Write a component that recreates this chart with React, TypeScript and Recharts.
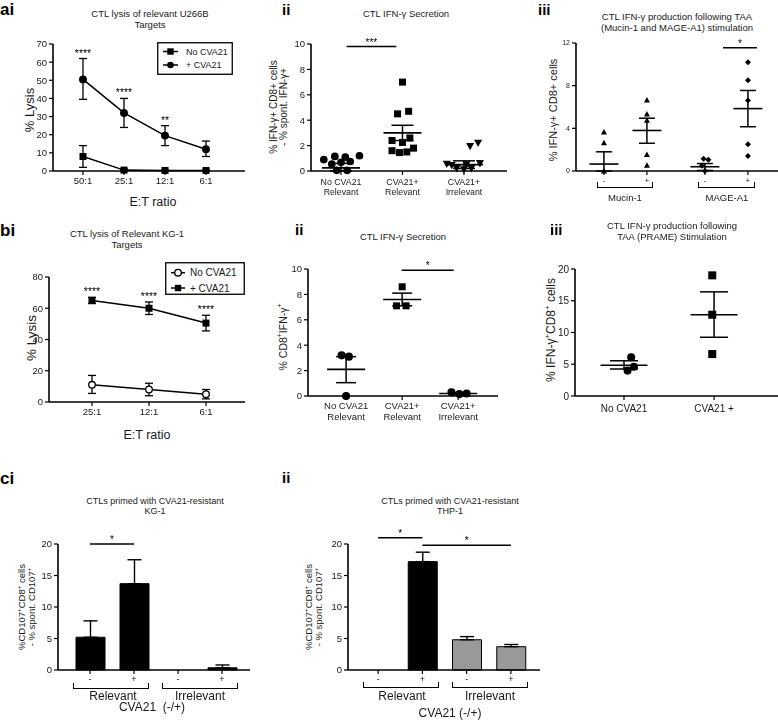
import React from "react";
import {
  LineChart, Line, ScatterChart, Scatter, BarChart, Bar, Cell,
  XAxis, YAxis, ErrorBar, ReferenceLine, ReferenceDot,
} from "recharts";

const FONT = "'Liberation Sans', Arial, Helvetica, sans-serif";
const INK = "#1a1a1a";

// ---------- a(i) CTL lysis of U266B ----------
const aiRatios = ["50:1", "25:1", "12:1", "6:1"];
const aiNo = [8, 0.5, 0.3, 0.3];
const aiNoErr = [[6, 6], [0.5, 0.5], [0.3, 0.3], [0.3, 0.3]];
const aiPlus = [50.5, 32, 19.5, 12];
const aiPlusErr = [[11, 11.5], [8, 8], [5.5, 5.5], [4, 4.5]];
const aiSig = ["****", "****", "**", ""];

// ---------- a(ii) IFN-g secretion, points are [x, value] ----------
const aiiNoRel = [[0.72, 0.9], [0.9, 1.15], [1.07, 1.1], [1.3, 1.2], [0.85, 0.55], [1.0, 0.68], [1.15, 0.75], [0.93, 0.05], [1.1, 0.05]];
const aiiCvaRel = [[2.0, 7.0], [2.1, 4.7], [1.92, 4.5], [2.12, 2.6], [1.83, 2.4], [2.0, 2.25], [2.18, 1.8], [1.83, 1.6], [2.07, 1.5], [1.95, 1.45]];
const aiiCvaIrr = [[3.23, 2.2], [3.1, 1.95], [3.26, 0.6], [2.72, 0.55], [2.8, 0.45], [3.04, 0.5], [2.88, 0.2], [3.0, 0.1], [3.12, 0.2]];
const aiiMean = [0.25, 3.0, 0.5];
const aiiSem = [[0.25, 0.35], [0.6, 0.6], [0.3, 0.3]];
const aiiTicks = [["No CVA21", "Relevant"], ["CVA21+", "Relevant"], ["CVA21+", "Irrelevant"]];

// ---------- a(iii) TAA stimulation ----------
const aiiiPos = [1, 2, 3.35, 4.35];
const aiiiMucNeg = [[1, 3.65], [1, 2.65], [1, 0]];
const aiiiMucPos = [[2, 6.65], [2, 5.35], [2, 4.75], [2, 1.55], [2, 0.55]];
const aiiiMageNeg = [[3.32, 1.15], [3.43, 1.05], [3.28, 0.5], [3.35, 0]];
const aiiiMagePos = [[4.35, 10.2], [4.35, 8.5], [4.35, 6.6], [4.35, 2.5], [4.35, 1.4]];
const aiiiMean = [0.65, 3.8, 0.4, 5.85];
const aiiiSem = [[0.65, 1.15], [1.2, 1.15], [0.35, 0.3], [1.7, 1.7]];
const aiiiTicks = [["-"], ["+"], ["-"], ["+"]];

// ---------- b(i) CTL lysis of KG-1 ----------
const biRatios = ["25:1", "12:1", "6:1"];
const biNo = [11, 8, 5];
const biNoErr = [[5.5, 6], [4, 4], [3, 3]];
const biPlus = [65, 60, 50.5];
const biPlusErr = [[2, 2], [4, 4], [5, 5]];
const biSig = ["****", "****", "****"];

// ---------- b(ii) ----------
const biiNoRel = [[0.92, 3.2], [1.05, 3.1], [1.0, 0]];
const biiCvaRel = [[2.0, 8.6], [1.9, 7.1], [2.07, 7.1]];
const biiCvaIrr = [[2.88, 0.3], [3.02, 0.15], [3.15, 0.2]];
const biiMean = [2.1, 7.6, 0.2];
const biiSem = [[1.05, 1.0], [0.5, 0.5], [0.05, 0.05]];

// ---------- b(iii) PRAME ----------
const biiiNo = [[1.08, 6.1], [1.11, 4.6], [1.04, 4.0]];
const biiiCva = [[1.98, 19.0], [1.98, 12.8], [1.98, 6.6]];
const biiiMean = [4.85, 12.8];
const biiiSem = [[0.6, 0.7], [3.55, 3.6]];
const biiiTicks = [["No CVA21"], ["CVA21 +"]];

// ---------- c(i), c(ii) CD107 ----------
const cCats = ["Relevant -", "Relevant +", "Irrelevant -", "Irrelevant +"];
const ciVals = [5.2, 13.7, 0, 0.35];
const ciErr = [2.6, 3.8, 0, 0.45];
const ciFill = ["#000", "#000", "#000", "#000"];
const ciiVals = [0, 17.2, 4.8, 3.7];
const ciiErr = [0, 1.5, 0.5, 0.35];
const ciiFill = ["#000", "#000", "#999", "#999"];

// plot boxes: [x0, x1, yTop, yBottom] in page px
const AI = [53, 245, 44, 171];
const AII = [311, 507, 44, 171];
const AIII = [576, 778, 42.7, 170.7];
const BI = [49, 245, 277, 402];
const BII = [308, 498, 269, 396];
const BIII = [575, 778, 269, 396];
const CI = [58, 250, 544, 670];
const CII = [348, 540, 544, 670];

const YW = 34, MT = 24, MR = 6, XH = 40;
function dims(b: number[]) {
  const [x0, x1, yT, yB] = b;
  return {
    pos: { position: "absolute" as const, left: x0 - YW, top: yT - MT, willChange: "transform" },
    width: x1 - x0 + YW + MR,
    height: yB - yT + MT + XH,
    margin: { top: MT, right: MR, left: 0, bottom: 0 },
  };
}

const ax = {
  axisLine: { stroke: "#000", strokeWidth: 1.6 },
  tickLine: { stroke: "#000", strokeWidth: 1.2 },
  tickSize: 4,
  tickMargin: 2,
};
const tk = (s: number) => ({ fontSize: s, fill: INK, fontFamily: FONT });

const pts = (a: number[][]) => a.map(([x, y]) => ({ x, y }));
const means = (xs: number[], m: number[], e: number[][]) => xs.map((x, i) => ({ x, y: m[i], err: e[i] }));

// marker shapes
const circ = (r: number, fill = "#000") => (p: any) => (
  <circle key={`c${p.index}`} cx={p.cx} cy={p.cy} r={r} fill={fill} stroke="#000" strokeWidth={1.3} />
);
const sq = (s: number) => (p: any) => (
  <rect key={`s${p.index}`} x={p.cx - s / 2} y={p.cy - s / 2} width={s} height={s} fill="#000" />
);
const triUp = (s: number) => (p: any) => (
  <polygon points={`${p.cx - s / 2},${p.cy + s * 0.42} ${p.cx + s / 2},${p.cy + s * 0.42} ${p.cx},${p.cy - s * 0.5}`} fill="#000" />
);
const triDown = (s: number) => (p: any) => (
  <polygon points={`${p.cx - s / 2},${p.cy - s * 0.42} ${p.cx + s / 2},${p.cy - s * 0.42} ${p.cx},${p.cy + s * 0.5}`} fill="#000" />
);
const dia = (s: number) => (p: any) => (
  <polygon points={`${p.cx},${p.cy - s / 2} ${p.cx + s / 2},${p.cy} ${p.cx},${p.cy + s / 2} ${p.cx - s / 2},${p.cy}`} fill="#000" />
);
const meanBar = (w: number) => (p: any) => (
  <line x1={p.cx - w / 2} x2={p.cx + w / 2} y1={p.cy} y2={p.cy} stroke="#000" strokeWidth={1.6} />
);

function MultiTick(p: any) {
  const lines: string[] = p.labels[p.index] || [];
  return (
    <text x={p.x} y={p.y} textAnchor="middle" fontSize={p.size} fontFamily={FONT} fill={INK}>
      {lines.map((l, i) => (
        <tspan key={i} x={p.x} dy={i === 0 ? p.dy : p.lh}>{l}</tspan>
      ))}
    </text>
  );
}

function Txt({ x, y, size = 10, bold = false, rot = false, lh = 1.15, children }: any) {
  return (
    <div
      style={{
        position: "absolute", left: x, top: y,
        transform: `translate(-50%,-50%)${rot ? " rotate(-90deg)" : ""}`,
        fontSize: size, fontWeight: bold ? 700 : 400, whiteSpace: "nowrap",
        textAlign: "center", lineHeight: typeof lh === "number" && lh < 3 ? lh : `${lh}px`, color: INK,
      }}
    >
      {children}
    </div>
  );
}
const Letter = ({ x, y, s = 17, children }: any) => (
  <div style={{ position: "absolute", left: x, top: y, fontSize: s, fontWeight: 700, lineHeight: 1.2, color: "#000" }}>{children}</div>
);
const Sup = ({ children }: any) => (
  <sup style={{ fontSize: "0.65em", verticalAlign: "super", lineHeight: 0 }}>{children}</sup>
);
function Bracket({ x1, x2, y, h = 6 }: any) {
  return (
    <div style={{
      position: "absolute", left: x1, top: y - h, width: x2 - x1, height: h, boxSizing: "border-box",
      borderLeft: "1.5px solid #000", borderRight: "1.5px solid #000", borderBottom: "1.5px solid #000",
    }} />
  );
}

function LegendBox({ x, y, w, h, rows, size, lx1, lx2, tx }: any) {
  return (
    <svg style={{ position: "absolute", left: x, top: y }} width={w} height={h}>
      <rect x={0.75} y={0.75} width={w - 1.5} height={h - 1.5} fill="#fff" stroke="#000" strokeWidth={1.3} />
      {rows.map((r: any, i: number) => {
        const mx = (lx1 + lx2) / 2;
        return (
          <g key={i}>
            <line x1={lx1} x2={lx2} y1={r.y} y2={r.y} stroke="#000" strokeWidth={1.5} />
            {r.m === "sq" && <rect x={mx - 3.2} y={r.y - 3.2} width={6.4} height={6.4} fill="#000" />}
            {r.m === "circ" && <circle cx={mx} cy={r.y} r={3.3} fill="#000" />}
            {r.m === "open" && <circle cx={mx} cy={r.y} r={3.3} fill="#fff" stroke="#000" strokeWidth={1.4} />}
            <text x={tx} y={r.y} dominantBaseline="central" fontSize={size} fontFamily={FONT} fill={INK}>{r.label}</text>
          </g>
        );
      })}
    </svg>
  );
}

function LysisChart({ box, cats, no, noErr, plus, plusErr, sig, ymax, yticks, pad, noDot, plusDot }: any) {
  const d = dims(box);
  const data = cats.map((r: string, i: number) => ({
    r, no: no[i], noErr: noErr[i], plus: plus[i], plusErr: plusErr[i],
    sigY: plus[i] + plusErr[i][1], sig: sig[i],
  }));
  return (
    <div style={d.pos}>
      <LineChart width={d.width} height={d.height} margin={d.margin} data={data}>
        <XAxis dataKey="r" padding={pad} height={XH} tick={tk(9.5)} interval={0} {...ax} />
        <YAxis domain={[0, ymax]} ticks={yticks} width={YW} tick={tk(9.5)} interval={0} {...ax} />
        <Line dataKey="no" stroke="#000" strokeWidth={1.5} dot={noDot} activeDot={false} isAnimationActive={false}>
          <ErrorBar dataKey="noErr" direction="y" width={4} stroke="#000" strokeWidth={1.3} />
        </Line>
        <Line dataKey="plus" stroke="#000" strokeWidth={1.5} dot={plusDot} activeDot={false} isAnimationActive={false}>
          <ErrorBar dataKey="plusErr" direction="y" width={4} stroke="#000" strokeWidth={1.3} />
        </Line>
        {data.filter((row: any) => row.sig).map((row: any) => (
          <ReferenceDot key={row.r} x={row.r} y={row.sigY} r={0} fill="none" stroke="none" ifOverflow="visible"
            label={{ value: row.sig, position: "top", offset: 2, fontSize: 10.5, fill: "#000", fontFamily: FONT }} />
        ))}
      </LineChart>
    </div>
  );
}

function DotPlot({ box, xdom, xticks, tickLabels, tickFont, tickDy, tickLh, ydom, yticks, yFont, series, meanData, meanW, capW, sigs }: any) {
  const d = dims(box);
  return (
    <div style={d.pos}>
      <ScatterChart width={d.width} height={d.height} margin={d.margin}>
        <XAxis type="number" dataKey="x" domain={xdom} ticks={xticks} height={XH} interval={0} {...ax}
          tick={(p: any) => <MultiTick {...p} labels={tickLabels} size={tickFont} dy={tickDy} lh={tickLh} />} />
        <YAxis type="number" dataKey="y" domain={ydom} ticks={yticks} width={YW} tick={tk(yFont)} interval={0} {...ax} />
        {series.map((s: any, i: number) => (
          <Scatter key={i} data={s.data} shape={s.shape} isAnimationActive={false} />
        ))}
        <Scatter data={meanData} shape={meanBar(meanW)} isAnimationActive={false}>
          <ErrorBar dataKey="err" direction="y" width={capW} stroke="#000" strokeWidth={1.5} />
        </Scatter>
        {sigs.map((s: any, i: number) => (
          <ReferenceLine key={i} segment={[{ x: s.x1, y: s.y }, { x: s.x2, y: s.y }]} stroke="#000" strokeWidth={1.6}
            ifOverflow="visible" label={{ value: s.t, position: "top", offset: 1, fontSize: 10, fill: "#000" }} />
        ))}
      </ScatterChart>
    </div>
  );
}

function CD107Chart({ box, vals, errs, fills, pad, sigs }: any) {
  const d = dims(box);
  const data = cCats.map((c, i) => ({ c, v: vals[i], e: [0, errs[i]] }));
  return (
    <div style={d.pos}>
      <BarChart width={d.width} height={d.height} margin={d.margin} data={data} barSize={29}>
        <XAxis dataKey="c" padding={pad} height={XH} interval={0} {...ax}
          tick={(p: any) => <MultiTick {...p} labels={[["-"], ["+"], ["-"], ["+"]]} size={9} dy={6} lh={0} />} />
        <YAxis domain={[0, 20]} ticks={[0, 5, 10, 15, 20]} width={YW} tick={tk(9.5)} interval={0} {...ax} />
        {sigs.map((s: any, i: number) => (
          <ReferenceLine key={i} segment={[{ x: s.x1, y: s.y }, { x: s.x2, y: s.y }]} stroke="#000" strokeWidth={1.6}
            ifOverflow="visible" label={{ value: "*", position: "top", offset: 1, fontSize: 10, fill: "#000" }} />
        ))}
        <Bar dataKey="v" stroke="#000" strokeWidth={1} isAnimationActive={false}>
          {data.map((_, i) => <Cell key={i} fill={fills[i]} />)}
          <ErrorBar dataKey="e" direction="y" width={7} stroke="#000" strokeWidth={1.4} />
        </Bar>
      </BarChart>
    </div>
  );
}

export default function App() {
  return (
    <div style={{ position: "absolute", left: 0, top: 0, width: 778, height: 721, background: "#fff", overflow: "hidden", fontFamily: FONT }}>
      {/* ---------------- row a ---------------- */}
      <Letter x={0} y={0}>ai</Letter>
      <Txt x={150} y={18.5} size={9.5} lh={11.5}>CTL lysis of relevant U266B<br />Targets</Txt>
      <Txt x={30} y={110} size={13} rot>% Lysis</Txt>
      <Txt x={153} y={202} size={12.5}>E:T ratio</Txt>
      <LysisChart box={AI} cats={aiRatios} no={aiNo} noErr={aiNoErr} plus={aiPlus} plusErr={aiPlusErr} sig={aiSig}
        ymax={70} yticks={[0, 10, 20, 30, 40, 50, 60, 70]} pad={{ left: 30, right: 39 }} noDot={sq(7)} plusDot={circ(3.3)} />
      <LegendBox x={157} y={42} w={76} h={33} size={9} lx1={6} lx2={21} tx={29}
        rows={[{ y: 9.5, m: "sq", label: "No CVA21" }, { y: 23, m: "circ", label: "+ CVA21" }]} />

      <Letter x={282} y={1} s={15}>ii</Letter>
      <Txt x={406} y={13.5} size={9.5}>CTL IFN-γ Secretion</Txt>
      <Txt x={279} y={107} size={10} rot lh={10}>% IFN-γ+ CD8+ cells<br />- % spont. IFN-γ+</Txt>
      <DotPlot box={AII} xdom={[0.512, 3.7]} xticks={[1, 2, 3]} tickLabels={aiiTicks} tickFont={8.8} tickDy={8} tickLh={10}
        ydom={[0, 10]} yticks={[0, 2, 4, 6, 8, 10]} yFont={9.5}
        series={[{ data: pts(aiiNoRel), shape: circ(3.2) }, { data: pts(aiiCvaRel), shape: sq(7) }, { data: pts(aiiCvaIrr), shape: triDown(8) }]}
        meanData={means([1, 2, 3], aiiMean, aiiSem)} meanW={38} capW={11}
        sigs={[{ x1: 1.09, x2: 1.9, y: 9.8, t: "***" }]} />

      <Letter x={538} y={1} s={15}>iii</Letter>
      <Txt x={677} y={21.5} size={9.5} lh={11}>CTL IFN-γ production following TAA<br />(Mucin-1 and MAGE-A1) stimulation</Txt>
      <Txt x={553} y={110} size={11} rot>% IFN-γ+ CD8+ cells</Txt>
      <DotPlot box={AIII} xdom={[0.35, 5.05]} xticks={aiiiPos} tickLabels={aiiiTicks} tickFont={8} tickDy={6} tickLh={0}
        ydom={[0, 12]} yticks={[0, 4, 8, 12]} yFont={7}
        series={[{ data: pts(aiiiMucNeg), shape: triUp(6) }, { data: pts(aiiiMucPos), shape: triUp(6) },
          { data: pts(aiiiMageNeg), shape: dia(6) }, { data: pts(aiiiMagePos), shape: dia(6) }]}
        meanData={means(aiiiPos, aiiiMean, aiiiSem)} meanW={29} capW={8}
        sigs={[{ x1: 3.77, x2: 4.56, y: 11.55, t: "*" }]} />
      <Bracket x1={597} x2={653} y={188} />
      <Bracket x1={698} x2={755} y={188} />
      <Txt x={625} y={197.5} size={9.5}>Mucin-1</Txt>
      <Txt x={727} y={197.5} size={9.5}>MAGE-A1</Txt>

      {/* ---------------- row b ---------------- */}
      <Letter x={0} y={221}>bi</Letter>
      <Txt x={127} y={239} size={9.5} lh={10.5}>CTL lysis of Relevant KG-1<br />Targets</Txt>
      <Txt x={32} y={338} size={13.5} rot>% Lysis</Txt>
      <Txt x={147} y={435} size={12.5}>E:T ratio</Txt>
      <LysisChart box={BI} cats={biRatios} no={biNo} noErr={biNoErr} plus={biPlus} plusErr={biPlusErr} sig={biSig}
        ymax={80} yticks={[0, 20, 40, 60, 80]} pad={{ left: 43, right: 39 }} noDot={circ(3.3, "#fff")} plusDot={sq(7)} />
      <LegendBox x={165} y={262} w={80} h={33} size={10} lx1={6} lx2={20} tx={25}
        rows={[{ y: 10.7, m: "open", label: "No CVA21" }, { y: 26, m: "sq", label: "+ CVA21" }]} />

      <Letter x={295} y={221} s={15}>ii</Letter>
      <Txt x={403} y={237} size={9.5}>CTL IFN-γ Secretion</Txt>
      <Txt x={283} y={337} size={10.5} rot>% CD8<Sup>+</Sup>IFN-γ<Sup>+</Sup></Txt>
      <DotPlot box={BII} xdom={[0.32, 3.71]} xticks={[1, 2, 3]} tickLabels={aiiTicks} tickFont={9.5} tickDy={6.5} tickLh={11.5}
        ydom={[0, 10]} yticks={[0, 2, 4, 6, 8, 10]} yFont={9.5}
        series={[{ data: pts(biiNoRel), shape: circ(3.4) }, { data: pts(biiCvaRel), shape: sq(7) }, { data: pts(biiCvaIrr), shape: circ(3.4) }]}
        meanData={means([1, 2, 3], biiMean, biiSem)} meanW={38} capW={10}
        sigs={[{ x1: 1.99, x2: 2.92, y: 9.9, t: "*" }]} />

      <Letter x={550} y={221} s={15}>iii</Letter>
      <Txt x={672} y={230.5} size={9.5} lh={11}>CTL IFN-γ production following<br />TAA (PRAME) Stimulation</Txt>
      <Txt x={552} y={330} size={12} rot>% IFN-γ<Sup>+</Sup>CD8<Sup>+</Sup> cells</Txt>
      <DotPlot box={BIII} xdom={[0.456, 2.71]} xticks={[1, 2]} tickLabels={biiiTicks} tickFont={10} tickDy={10} tickLh={0}
        ydom={[0, 20]} yticks={[0, 5, 10, 15, 20]} yFont={10}
        series={[{ data: pts(biiiNo), shape: circ(3.4) }, { data: pts(biiiCva), shape: sq(8) }]}
        meanData={means([1, 2], biiiMean, biiiSem)} meanW={47} capW={14}
        sigs={[]} />

      {/* ---------------- row c ---------------- */}
      <Letter x={0} y={469}>ci</Letter>
      <Txt x={155} y={506} size={9} lh={10}>CTLs primed with CVA21-resistant<br />KG-1</Txt>
      <Txt x={27} y={607} size={9.5} rot lh={10}>%CD107<Sup>+</Sup>CD8<Sup>+</Sup> cells<br />- % spont. CD107<Sup>+</Sup></Txt>
      <CD107Chart box={CI} vals={ciVals} errs={ciErr} fills={ciFill} pad={{ left: 10, right: 6 }}
        sigs={[{ x1: "Relevant -", x2: "Relevant +", y: 20 }]} />
      <Bracket x1={73} x2={149} y={689} />
      <Bracket x1={162} x2={238} y={689} />
      <Txt x={113} y={697} size={12}>Relevant</Txt>
      <Txt x={200} y={697} size={12}>Irrelevant</Txt>
      <Txt x={152} y={708} size={12}>CVA21&nbsp; (-/+)</Txt>

      <Letter x={282} y={469} s={15}>ii</Letter>
      <Txt x={450} y={506} size={9} lh={10}>CTLs primed with CVA21-resistant<br />THP-1</Txt>
      <Txt x={314} y={607} size={9.5} rot lh={10}>%CD107<Sup>+</Sup>CD8<Sup>+</Sup> cells<br />- % spont. CD107<Sup>+</Sup></Txt>
      <CD107Chart box={CII} vals={ciiVals} errs={ciiErr} fills={ciiFill} pad={{ left: 8, right: 7 }}
        sigs={[{ x1: "Relevant -", x2: "Relevant +", y: 21 }, { x1: "Relevant +", x2: "Irrelevant +", y: 19.8 }]} />
      <Bracket x1={363} x2={439} y={688} />
      <Bracket x1={452} x2={528} y={688} />
      <Txt x={402} y={697} size={12}>Relevant</Txt>
      <Txt x={490} y={697} size={12}>Irrelevant</Txt>
      <Txt x={450} y={714} size={12}>CVA21 (-/+)</Txt>
    </div>
  );
}
